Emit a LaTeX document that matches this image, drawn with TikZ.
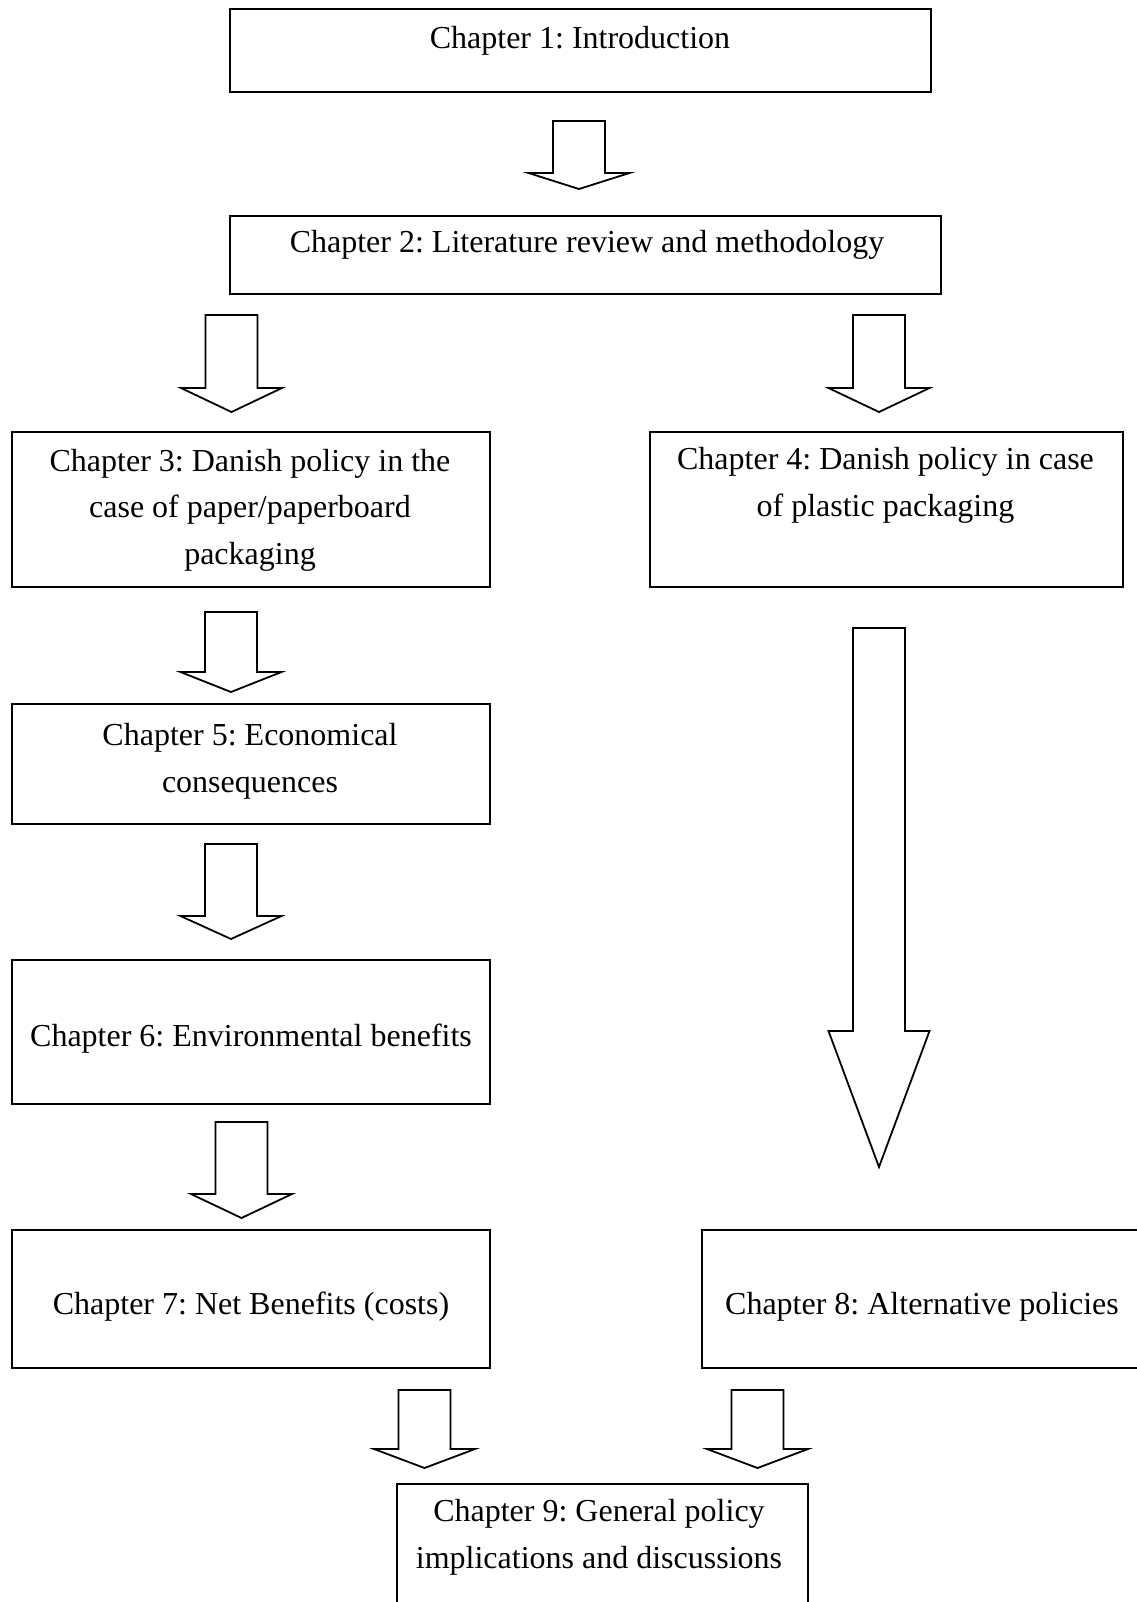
\documentclass[tikz,border=0pt]{standalone}
\usepackage{fontspec}
\setmainfont{Liberation Serif}
\usetikzlibrary{positioning}
\frenchspacing
\tikzset{
  chbox/.style={draw,line width=1pt,inner sep=0pt},
  chtxt/.style={align=center,inner sep=0pt,
                font=\fontsize{16pt}{23.3pt}\selectfont},
  blkarr/.style={draw,line width=0.9pt,line join=miter},
}
\begin{document}
\begin{tikzpicture}[x=0.5pt,y=-0.5pt]
\useasboundingbox (0,0) rectangle (1136,1602);
% chapter boxes
\node[chbox,minimum width=350.5pt,minimum height=41.5pt] (ch1) at (580.5,50.5) {};
\node[chbox,minimum width=355.5pt,minimum height=39pt]   (ch2) at (585.5,255) {};
\node[chbox,minimum width=239pt,minimum height=77.5pt]   (ch3) at (251,509.5) {};
\node[chbox,minimum width=236.5pt,minimum height=77.5pt] (ch4) at (886.5,509.5) {};
\node[chbox,minimum width=239pt,minimum height=60pt]     (ch5) at (251,764) {};
\node[chbox,minimum width=239pt,minimum height=72pt]     (ch6) at (251,1032) {};
\node[chbox,minimum width=239pt,minimum height=69pt]     (ch7) at (251,1299) {};
\node[chbox,minimum width=220pt,minimum height=69pt]     (ch8) at (922,1299) {};
\node[chbox,minimum width=205.5pt,minimum height=78pt]   (ch9) at (602.5,1562) {};
% texts
\node[chtxt] (t1) at (580,40.5)   {Chapter 1: Introduction};
\node[chtxt] (t2) at (587,245)    {Chapter 2: Literature review and methodology};
\node[chtxt] (t3) at (250,510)    {Chapter 3: Danish policy in the\\case of paper/paperboard\\packaging};
\node[chtxt] (t4) at (885.5,485.5){Chapter 4: Danish policy in case\\of plastic packaging};
\node[chtxt] (t5) at (250,761)    {Chapter 5: Economical\\consequences};
\node[chtxt] (t6) at (251,1039)   {Chapter 6: Environmental benefits};
\node[chtxt] (t7) at (251,1307)   {Chapter 7: Net Benefits (costs)};
\node[chtxt] (t8) at (922,1307)   {Chapter 8: Alternative policies};
\node[chtxt] (t9) at (599,1537.5) {Chapter 9: General policy\\implications and discussions};
% block arrows: centre x / shaft top / head base / tip
\foreach \x/\t/\b/\e in {579/121/173/189, 231.5/315/388/412, 879/315/388/412,
    231/612/672/692, 231/844/916/939, 241.5/1122/1194/1218, 879/628/1031/1167,
    424.5/1390/1449/1468, 757.5/1390/1449/1468}
  \draw[blkarr] (\x-26,\t) -- (\x+26,\t) -- (\x+26,\b) -- (\x+50.5,\b)
    -- (\x,\e) -- (\x-50.5,\b) -- (\x-26,\b) -- cycle;
\end{tikzpicture}
\end{document}
